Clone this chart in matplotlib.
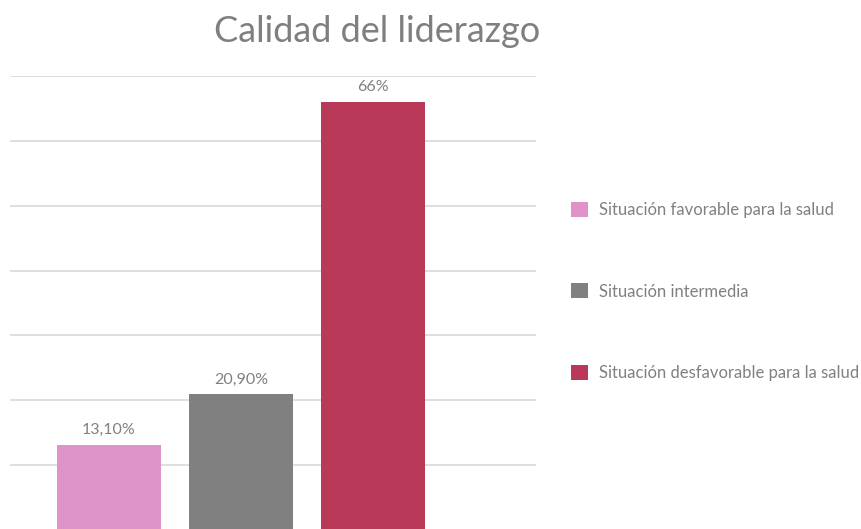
import matplotlib
matplotlib.use("Agg")
import matplotlib.pyplot as plt

categories = ["Situación favorable para la salud", "Situación intermedia",
              "Situación desfavorable para la salud"]
values = [13.1, 20.9, 66.0]
value_labels = ["13,10%", "20,90%", "66%"]
colors = ["#DD92C8", "#808080", "#B83A58"]
yticks = [0, 10, 20, 30, 40, 50, 60, 70]

plt.rcParams['font.family'] = ['Lato', 'DejaVu Sans']
txt = "#808080"

W, H = 862, 529
fig = plt.figure(figsize=(W / 100, H / 100), dpi=100)
left, right, top, bottom = 10, 536, 76, 530
ax = fig.add_axes([left / W, (H - bottom) / H, (right - left) / W, (bottom - top) / H])

x = list(range(len(values)))
bars = ax.bar(x, values, width=0.788, color=colors, zorder=3)
for i, b in enumerate(bars):
    b.set_label(categories[i])
    ax.text(b.get_x() + b.get_width() / 2, values[i] + 1.2, value_labels[i],
            ha="center", va="bottom", fontsize=11.5, color=txt)

ax.set_xlim(-0.75, 3.235)
ax.set_ylim(0, 70)
ax.set_yticks(yticks)
ax.yaxis.grid(True, color="#D9D9D9", linewidth=1.2, zorder=0)
ax.tick_params(left=False, bottom=False, labelleft=False, labelbottom=False)
for s in ax.spines.values():
    s.set_visible(False)

fig.text(377 / W, 1 - 32 / H, "Calidad del liderazgo", ha="center", va="center",
         fontsize=26, color="#7F7F7F")

leg = fig.legend(handles=list(bars), labels=categories, loc="upper left",
                 bbox_to_anchor=(556 / W, 1 - 187 / H), frameon=False,
                 fontsize=12, handlelength=1.0, handleheight=1.0,
                 labelspacing=3.92, handletextpad=0.7, labelcolor=txt)

fig.savefig("out.png", dpi=100)
